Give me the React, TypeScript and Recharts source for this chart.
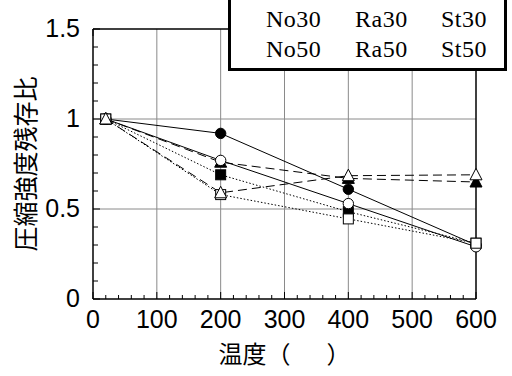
import { LineChart, Line, XAxis, YAxis, ReferenceLine } from 'recharts'

// temperature (°C) and residual compressive strength ratio
const temps = [20, 200, 400, 600]
const no30 = [1, 0.92, 0.61, 0.3]
const no50 = [1, 0.77, 0.53, 0.29]
const ra30 = [1, 0.69, 0.485, 0.31]
const ra50 = [1, 0.58, 0.445, 0.31]
const st30 = [1, 0.76, 0.67, 0.65]
const st50 = [1, 0.59, 0.685, 0.69]

const legendRow1 = ['No30', 'Ra30', 'St30']
const legendRow2 = ['No50', 'Ra50', 'St50']

const xTicks = Array.from({ length: 31 }, (_, i) => i * 20)
const yTicks = Array.from({ length: 16 }, (_, i) => i / 10)
const gridX = [100, 200, 300, 400, 500]
const gridY = [0.5, 1]

const rows = temps.map((t, i) => ({
  t,
  no30: no30[i],
  no50: no50[i],
  ra30: ra30[i],
  ra50: ra50[i],
  st30: st30[i],
  st50: st50[i],
}))

const sans = '"Liberation Sans", Arial, sans-serif'
const cjk = '"Noto Sans CJK JP", sans-serif'

function Marker({ cx, cy, shape, filled }: any) {
  if (cx == null || cy == null) return null
  const fill = filled ? '#000' : '#fff'
  if (shape === 'circle')
    return <circle cx={cx} cy={cy} r={5.2} fill={fill} stroke="#000" strokeWidth={1} />
  if (shape === 'square')
    return <rect x={cx - 5} y={cy - 5} width={10} height={10} fill={fill} stroke="#000" strokeWidth={1} />
  return (
    <polygon
      points={`${cx},${cy - 6.5} ${cx + 6},${cy + 5} ${cx - 6},${cy + 5}`}
      fill={fill}
      stroke="#000"
      strokeWidth={1}
    />
  )
}

function XTick({ x, y, payload, side }: any) {
  const v = payload.value
  const major = v % 100 === 0
  const len = major ? 7 : 4
  const dir = side === 'top' ? 1 : -1
  return (
    <g>
      <line x1={x} x2={x} y1={y} y2={y + dir * len} stroke="#000" strokeWidth={1} />
      {side === 'bottom' && major && (
        <text x={x} y={y + 29} textAnchor="middle" fontFamily={sans} fontSize={25} fill="#000">
          {v}
        </text>
      )}
    </g>
  )
}

function YTick({ x, y, payload, side }: any) {
  const v = payload.value
  const major = Math.abs(v * 2 - Math.round(v * 2)) < 1e-6
  const len = major ? 7 : 5
  const dir = side === 'right' ? -1 : 1
  return (
    <g>
      <line x1={x} x2={x + dir * len} y1={y} y2={y} stroke="#000" strokeWidth={1} />
      {side === 'left' && major && (
        <text x={x - 13} y={y + 8} textAnchor="end" fontFamily={sans} fontSize={25} fill="#000">
          {String(Math.round(v * 10) / 10)}
        </text>
      )}
    </g>
  )
}

const series = [
  { key: 'no30', shape: 'circle', filled: true, dash: undefined },
  { key: 'ra30', shape: 'square', filled: true, dash: '1.5 2' },
  { key: 'st30', shape: 'triangle', filled: true, dash: '9 5' },
  { key: 'no50', shape: 'circle', filled: false, dash: undefined },
  { key: 'ra50', shape: 'square', filled: false, dash: '1.5 2' },
  { key: 'st50', shape: 'triangle', filled: false, dash: '9 5' },
]

export default function App() {
  return (
    <div style={{ position: 'absolute', left: 0, top: 0, width: 512, height: 376, background: '#fff', overflow: 'hidden' }}>
      <LineChart width={512} height={376} data={rows} margin={{ top: 28, right: 35, bottom: 76, left: 92 }}>
        {gridX.map((v) => (
          <ReferenceLine key={'gx' + v} x={v} stroke="#8a8a8a" strokeWidth={1} />
        ))}
        {gridY.map((v) => (
          <ReferenceLine key={'gy' + v} y={v} stroke="#8a8a8a" strokeWidth={1} />
        ))}
        <XAxis
          dataKey="t"
          type="number"
          domain={[0, 600]}
          ticks={xTicks}
          interval={0}
          height={1}
          tickSize={0}
          tickMargin={0}
          axisLine={{ stroke: '#000', strokeWidth: 1.5 }}
          tick={(p: any) => <XTick {...p} side="bottom" />}
          label={{
            content: (p: any) => {
              const vb = p.viewBox
              return (
                <text x={vb.x + vb.width / 2} y={vb.y + 64} textAnchor="middle" fontFamily={cjk} fontSize={24} fill="#000">
                  温度（　<tspan dx={12}>）</tspan>
                </text>
              )
            },
          }}
        />
        <XAxis
          xAxisId="top"
          orientation="top"
          type="number"
          domain={[0, 600]}
          ticks={xTicks}
          interval={0}
          height={1}
          tickSize={0}
          tickMargin={0}
          axisLine={{ stroke: '#000', strokeWidth: 1.5 }}
          tick={(p: any) => <XTick {...p} side="top" />}
        />
        <YAxis
          type="number"
          domain={[0, 1.5]}
          ticks={yTicks}
          interval={0}
          width={1}
          tickSize={0}
          tickMargin={0}
          axisLine={{ stroke: '#000', strokeWidth: 1.5 }}
          tick={(p: any) => <YTick {...p} side="left" />}
          label={{
            content: (p: any) => {
              const vb = p.viewBox
              const cx = vb.x + vb.width - 69
              const cy = vb.y + vb.height / 2
              return (
                <text
                  x={cx}
                  y={cy}
                  transform={`rotate(-90 ${cx} ${cy})`}
                  textAnchor="middle"
                  dominantBaseline="central"
                  fontFamily={cjk}
                  fontSize={25}
                  fill="#000"
                >
                  圧縮強度残存比
                </text>
              )
            },
          }}
        />
        <YAxis
          yAxisId="right"
          orientation="right"
          type="number"
          domain={[0, 1.5]}
          ticks={yTicks}
          interval={0}
          width={1}
          tickSize={0}
          tickMargin={0}
          axisLine={{ stroke: '#000', strokeWidth: 1.5 }}
          tick={(p: any) => <YTick {...p} side="right" />}
        />
        {series.map((s) => (
          <Line
            key={s.key}
            dataKey={s.key}
            type="linear"
            stroke="#000"
            strokeWidth={1}
            strokeDasharray={s.dash}
            isAnimationActive={false}
            dot={(p: any) => <Marker key={s.key + p.index} {...p} shape={s.shape} filled={s.filled} />}
            activeDot={false}
          />
        ))}
      </LineChart>
      <div
        style={{
          position: 'absolute',
          left: 228,
          top: -3,
          width: 279,
          height: 74,
          border: '3px solid #000',
          boxSizing: 'border-box',
          background: '#fff',
        }}
      />
      {[legendRow1, legendRow2].map((row, r) =>
        row.map((name, c) => (
          <span
            key={name}
            style={{
              position: 'absolute',
              left: [266, 355, 441][c],
              top: 7 + r * 30,
              fontFamily: '"Liberation Serif", serif',
              fontSize: 24,
              lineHeight: '24px',
              letterSpacing: 0.5,
              color: '#000',
              whiteSpace: 'nowrap',
            }}
          >
            {name}
          </span>
        ))
      )}
    </div>
  )
}
